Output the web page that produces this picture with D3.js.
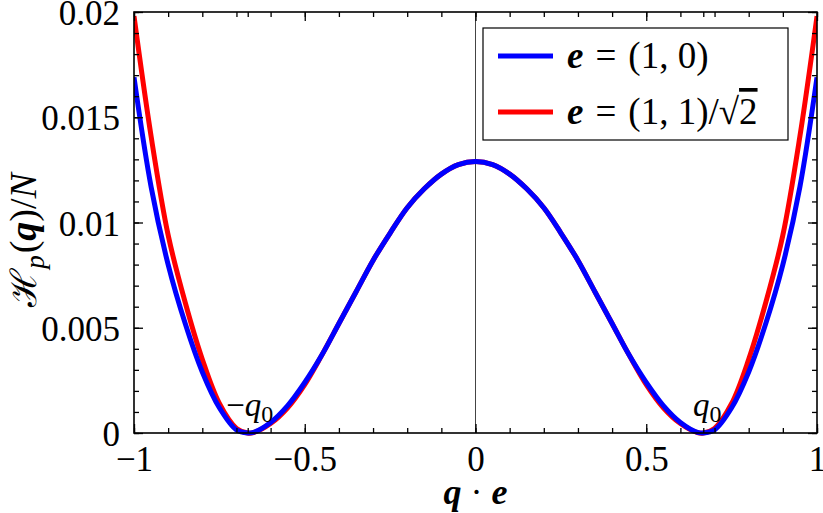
<!DOCTYPE html>
<html lang="en">
<head>
    <meta charset="utf-8">
    <title>Double well</title>
    <script src="https://d3js.org/d3.v7.min.js"></script>
</head>
<body style="margin:0;background:#fff">
<div id="chart"></div>
<script>
	// q . e sampled every 0.05 on the right half, mirrored for the left half
	var qHalf = [0, 0.05, 0.1, 0.15, 0.2, 0.25, 0.3, 0.35, 0.4, 0.45, 0.5, 0.55, 0.6, 0.65, 0.667, 0.7, 0.75, 0.8, 0.85, 0.9, 0.95, 1];
	var blueHalf = [0.0129, 0.01275, 0.0123, 0.0116, 0.0107, 0.0095, 0.0082, 0.0067, 0.0052, 0.0037, 0.0024, 0.0013, 0.0005, 0.00003, 0, 0.00015, 0.0012, 0.0029, 0.0052, 0.0080, 0.0117, 0.0169];
	var redHalf = [0.0129, 0.01275, 0.0123, 0.0116, 0.0107, 0.0095, 0.0082, 0.0067, 0.0052, 0.0037, 0.0023, 0.0012, 0.00045, 0.00002, 0, 0.00022, 0.0014, 0.0035, 0.0062, 0.0094, 0.0141, 0.0198];
	var xTicks = [-1, -0.5, 0, 0.5, 1],
		xTickLabels = ["\u22121", "\u22120.5", "0", "0.5", "1"],
		yTicks = [0, 0.005, 0.01, 0.015, 0.02],
		yTickLabels = ["0", "0.005", "0.01", "0.015", "0.02"],
		q0 = 0.667;

	(function () {
		function mirror(qs, vs) {
			var pts = [];
			for (var i = qs.length - 1; i > 0; i--) pts.push([-qs[i], vs[i]]);
			for (var j = 0; j < qs.length; j++) pts.push([qs[j], vs[j]]);
			return pts;
		}
		var series = [
			{name: "red", color: "#ff0000", points: mirror(qHalf, redHalf)},
			{name: "blue", color: "#0000ff", points: mirror(qHalf, blueHalf)}
		];

		var width = 823, height = 513,
			mLeft = 134, mRight = 817, mTop = 12, mBottom = 433,
			font = "'Liberation Serif', 'DejaVu Serif', serif";

		var svg = d3.select("#chart").append("svg")
			.attr("width", width).attr("height", height)
			.style("font-family", font);

		var x = d3.scaleLinear().domain([-1, 1]).range([mLeft, mRight]),
			y = d3.scaleLinear().domain([0, 0.02]).range([mBottom, mTop]);

		svg.append("clipPath").attr("id", "clip")
			.append("rect").attr("x", mLeft).attr("y", mTop)
			.attr("width", mRight - mLeft).attr("height", mBottom - mTop + 3);

		// vertical line at zero
		svg.append("line")
			.attr("x1", x(0)).attr("x2", x(0))
			.attr("y1", y(0)).attr("y2", y(0.02))
			.style("stroke", "#444").style("stroke-width", "1px");

		var line = d3.line()
			.x(function (d) { return x(d[0]); })
			.y(function (d) { return y(d[1]); })
			.curve(d3.curveCatmullRom.alpha(0.5));

		svg.selectAll(".curve")
			.data(series)
			.enter().append("path")
			.attr("class", "curve")
			.attr("clip-path", "url(#clip)")
			.attr("d", function (d) { return line(d.points); })
			.style("fill", "none")
			.style("stroke", function (d) { return d.color; })
			.style("stroke-width", "5px");

		// axes with inward ticks on all four sides
		var xMinor = d3.range(-10, 11).map(function (i) { return i / 10; }).concat([-q0, q0]),
			yMinor = d3.range(0, 21).map(function (i) { return i / 1000; });

		function styleAxis(g) {
			g.select(".domain").remove();
			g.selectAll("line").style("stroke", "#000").style("stroke-width", "1.3px");
		}

		svg.append("g").attr("transform", "translate(0," + mBottom + ")")
			.call(d3.axisBottom(x).tickValues(xMinor).tickSize(-5).tickFormat(""))
			.call(styleAxis);
		svg.append("g").attr("transform", "translate(0," + mBottom + ")")
			.call(d3.axisBottom(x).tickValues(xTicks).tickSize(-9)
				.tickFormat(function (d, i) { return xTickLabels[i]; }))
			.call(styleAxis)
			.selectAll("text").style("font-size", "35px").style("font-family", font)
			.attr("y", 12).attr("dy", "0.75em");
		svg.append("g").attr("transform", "translate(0," + mTop + ")")
			.call(d3.axisTop(x).tickValues(xMinor).tickSize(-5).tickFormat(""))
			.call(styleAxis);
		svg.append("g").attr("transform", "translate(0," + mTop + ")")
			.call(d3.axisTop(x).tickValues(xTicks).tickSize(-9).tickFormat(""))
			.call(styleAxis);

		svg.append("g").attr("transform", "translate(" + mLeft + ",0)")
			.call(d3.axisLeft(y).tickValues(yMinor).tickSize(-5).tickFormat(""))
			.call(styleAxis);
		svg.append("g").attr("transform", "translate(" + mLeft + ",0)")
			.call(d3.axisLeft(y).tickValues(yTicks).tickSize(-9)
				.tickFormat(function (d, i) { return yTickLabels[i]; }))
			.call(styleAxis)
			.selectAll("text").style("font-size", "35px").style("font-family", font)
			.attr("x", -14).attr("dy", "0.36em");
		svg.append("g").attr("transform", "translate(" + mRight + ",0)")
			.call(d3.axisRight(y).tickValues(yMinor).tickSize(-5).tickFormat(""))
			.call(styleAxis);
		svg.append("g").attr("transform", "translate(" + mRight + ",0)")
			.call(d3.axisRight(y).tickValues(yTicks).tickSize(-9).tickFormat(""))
			.call(styleAxis);

		svg.append("rect")
			.attr("x", mLeft).attr("y", mTop)
			.attr("width", mRight - mLeft).attr("height", mBottom - mTop)
			.style("fill", "none").style("stroke", "#000").style("stroke-width", "1.6px");

		// q0 markers
		var ann = svg.append("g").style("font-size", "33px");
		var t1 = ann.append("text").attr("x", x(-q0) + 2).attr("y", mBottom - 17)
			.attr("text-anchor", "middle");
		t1.append("tspan").text("\u2212");
		t1.append("tspan").style("font-style", "italic").text("q");
		t1.append("tspan").attr("dy", 6).style("font-size", "24px").text("0");
		var t2 = ann.append("text").attr("x", x(q0) + 4).attr("y", mBottom - 17)
			.attr("text-anchor", "middle");
		t2.append("tspan").style("font-style", "italic").text("q");
		t2.append("tspan").attr("dy", 6).style("font-size", "24px").text("0");

		// axis titles
		var xt = svg.append("text").attr("x", x(0)).attr("y", 504)
			.attr("text-anchor", "middle").style("font-size", "36px");
		xt.append("tspan").style("font-weight", "bold").style("font-style", "italic").text("q");
		xt.append("tspan").text(" \u00b7 ");
		xt.append("tspan").style("font-weight", "bold").style("font-style", "italic").text("e");

		var yt = svg.append("text")
			.attr("transform", "translate(36,240) rotate(-90)")
			.attr("text-anchor", "middle").style("font-size", "38px");
		yt.append("tspan").style("font-family", "'DejaVu Serif', serif").style("font-size", "36px").text("\u210b");
		yt.append("tspan").attr("dy", 8).style("font-style", "italic").style("font-size", "27px").text("p");
		yt.append("tspan").attr("dy", -8).attr("dx", 2).text("(");
		yt.append("tspan").style("font-weight", "bold").style("font-style", "italic").text("q");
		yt.append("tspan").text(")/");
		yt.append("tspan").style("font-style", "italic").text("N");

		// legend
		var legend = svg.append("g");
		legend.append("rect")
			.attr("x", 483).attr("y", 28).attr("width", 305).attr("height", 112)
			.style("fill", "#fff").style("stroke", "#000").style("stroke-width", "1.2px");
		var entries = [
			{color: "#0000ff", y: 56, label: ["(1, 0)"]},
			{color: "#ff0000", y: 112, label: ["(1, 1)/\u221a", "2"]}
		];
		entries.forEach(function (e) {
			legend.append("line")
				.attr("x1", 498).attr("x2", 553).attr("y1", e.y).attr("y2", e.y)
				.style("stroke", e.color).style("stroke-width", "5px");
			var t = legend.append("text").attr("x", 567).attr("y", e.y + 12)
				.style("font-size", "37px");
			t.append("tspan").style("font-weight", "bold").style("font-style", "italic").text("e");
			t.append("tspan").attr("dx", 12).text("=");
			t.append("tspan").attr("dx", 12).text(e.label[0]);
			if (e.label[1]) {
				t.append("tspan").style("text-decoration", "overline").text(e.label[1]);
			}
		});
	}());
</script>
</body>
</html>
